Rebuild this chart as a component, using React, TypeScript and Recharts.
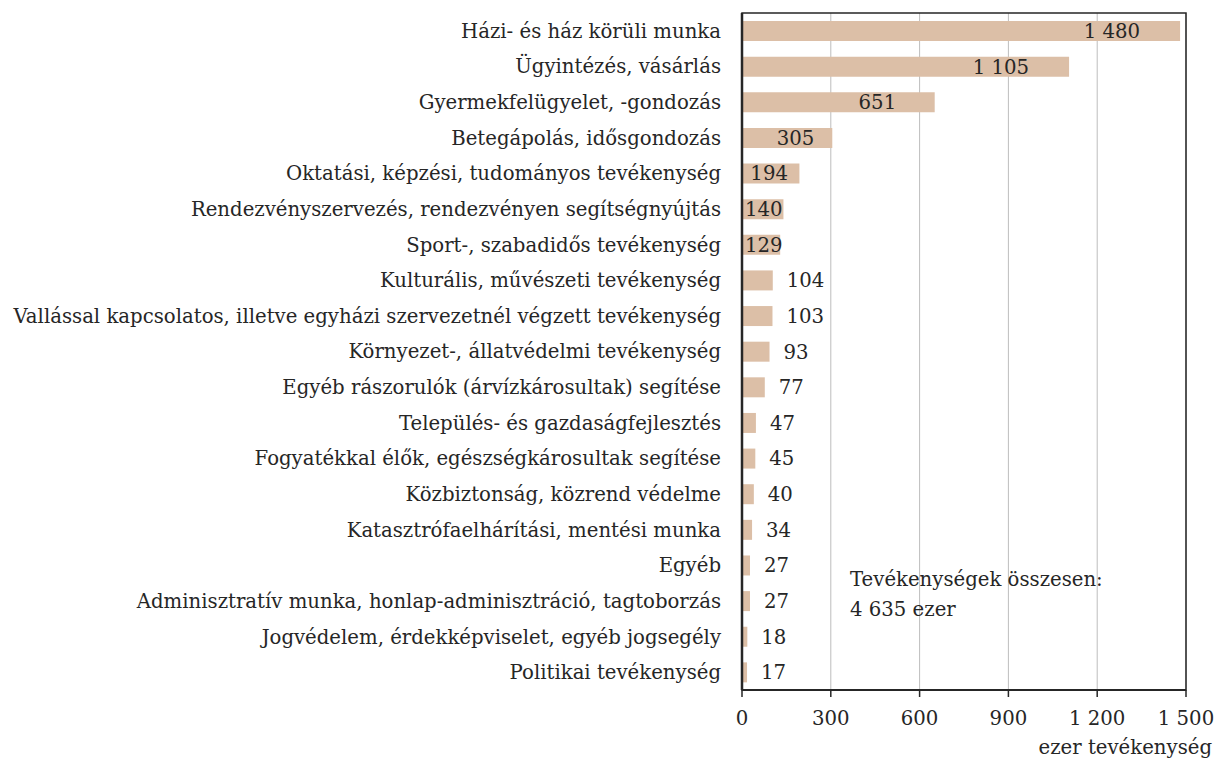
import React from 'react';
import { BarChart, Bar, XAxis, YAxis, CartesianGrid, ReferenceArea, LabelList } from 'recharts';

const categories = [
  'Házi- és ház körüli munka',
  'Ügyintézés, vásárlás',
  'Gyermekfelügyelet, -gondozás',
  'Betegápolás, idősgondozás',
  'Oktatási, képzési, tudományos tevékenység',
  'Rendezvényszervezés, rendezvényen segítségnyújtás',
  'Sport-, szabadidős tevékenység',
  'Kulturális, művészeti tevékenység',
  'Vallással kapcsolatos, illetve egyházi szervezetnél végzett tevékenység',
  'Környezet-, állatvédelmi tevékenység',
  'Egyéb rászorulók (árvízkárosultak) segítése',
  'Település- és gazdaságfejlesztés',
  'Fogyatékkal élők, egészségkárosultak segítése',
  'Közbiztonság, közrend védelme',
  'Katasztrófaelhárítási, mentési munka',
  'Egyéb',
  'Adminisztratív munka, honlap-adminisztráció, tagtoborzás',
  'Jogvédelem, érdekképviselet, egyéb jogsegély',
  'Politikai tevékenység',
];

const values = [1480, 1105, 651, 305, 194, 140, 129, 104, 103, 93, 77, 47, 45, 40, 34, 27, 27, 18, 17];

const xTicks = [0, 300, 600, 900, 1200, 1500];

const data = categories.map((name, i) => ({ name, value: values[i] }));

const FONT = '"DejaVu Serif", serif';
const FS = 19.7;
const TEXT = '#262626';

const fmt = (v: number) => String(v).replace(/\B(?=(\d{3})+(?!\d))/g, '\u00a0');

// small bars get the label outside, bigger ones inside near the end
const BarLabel = (props: any) => {
  const { x, y, width, height, value } = props;
  const text = fmt(value);
  const cy = y + height / 2;
  const textW = text.length * 12;
  if (value < 120) {
    return (
      <text x={x + width + 14} y={cy} dy="0.35em" fontFamily={FONT} fontSize={FS} fill={TEXT}>
        {text}
      </text>
    );
  }
  const end = x + width - Math.min(40, width * 0.2);
  if (end - textW < x + 2) {
    return (
      <text x={x + 3} y={cy} dy="0.35em" fontFamily={FONT} fontSize={FS} fill={TEXT}>
        {text}
      </text>
    );
  }
  return (
    <text x={end} y={cy} dy="0.35em" textAnchor="end" fontFamily={FONT} fontSize={FS} fill={TEXT}>
      {text}
    </text>
  );
};

const App: React.FC = () => {
  return (
    <div style={{ position: 'absolute', left: 0, top: 0, width: 1215, height: 760, fontFamily: FONT, background: '#fff' }}>
      <BarChart
        width={1215}
        height={760}
        data={data}
        layout="vertical"
        margin={{ top: 13, right: 29, left: 0, bottom: 40 }}
      >
        <CartesianGrid horizontal={false} stroke="#bdbdbd" />
        <XAxis
          type="number"
          domain={[0, 1500]}
          ticks={xTicks}
          tickFormatter={fmt}
          tick={{ fontFamily: FONT, fontSize: FS, fill: TEXT }}
          axisLine={{ stroke: '#262626', strokeWidth: 2 }}
          tickLine={{ stroke: '#262626', strokeWidth: 1.5 }}
          tickSize={7}
          tickMargin={14}
          interval={0}
        />
        <YAxis
          type="category"
          dataKey="name"
          width={742}
          tick={{ fontFamily: FONT, fontSize: FS, fill: TEXT }}
          axisLine={{ stroke: '#262626', strokeWidth: 2.5 }}
          tickLine={false}
          tickMargin={15}
          interval={0}
        />
        <ReferenceArea x1={0} x2={1500} fill="none" stroke="#262626" strokeWidth={1.5} />
        <Bar dataKey="value" fill="#dcbfa7" barSize={20} isAnimationActive={false}>
          <LabelList dataKey="value" content={BarLabel} />
        </Bar>
      </BarChart>
      <div style={{ position: 'absolute', left: 850, top: 565, fontSize: FS, lineHeight: '30px', color: TEXT }}>
        Tevékenységek összesen:
        <br />
        4 635 ezer
      </div>
      <div style={{ position: 'absolute', right: 3, top: 736, fontSize: FS, color: TEXT }}>ezer tevékenység</div>
    </div>
  );
};

export default App;
